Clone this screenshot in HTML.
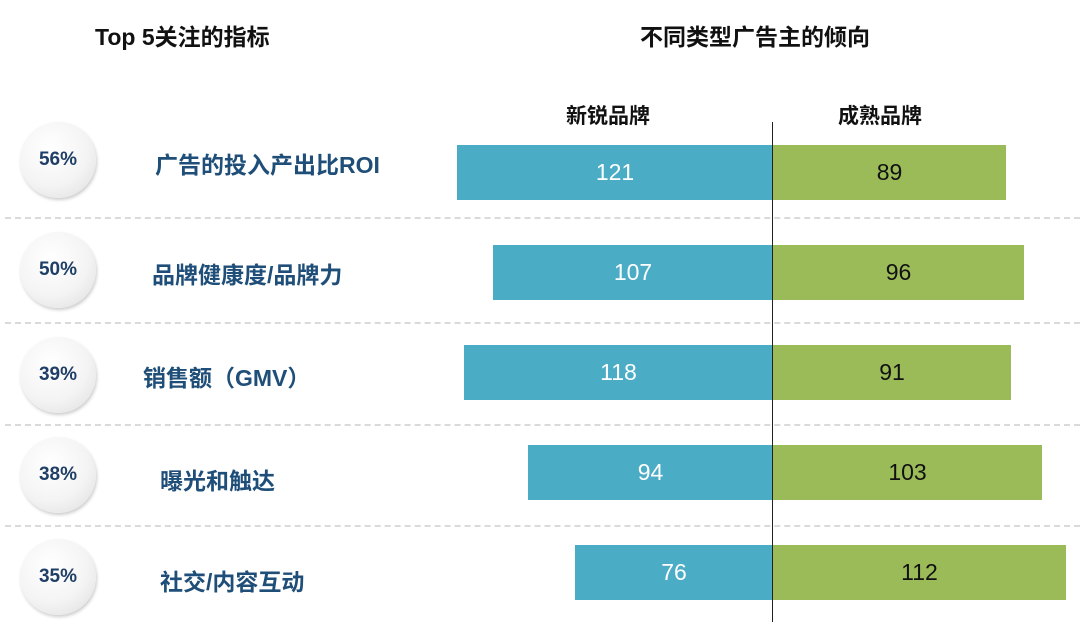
<!DOCTYPE html>
<html><head><meta charset="utf-8"><style>
body{margin:0;width:1080px;height:639px;background:#fff;position:relative;overflow:hidden;font-family:"Liberation Sans","Noto Sans CJK SC",sans-serif}
.a{position:absolute}
.t{font-weight:bold;font-size:23px;color:#111;white-space:nowrap}
.c{width:76px;height:76px;border-radius:50%;background:radial-gradient(circle at 40% 35%,#fff 0%,#f4f4f4 55%,#dcdcdc 100%);box-shadow:1px 2px 3px rgba(0,0,0,.2);display:flex;align-items:center;justify-content:center;font-weight:bold;font-size:19px;color:#1f3f66}
.l{font-weight:bold;font-size:23px;color:#1f4e79;white-space:nowrap}
.b{height:55px;display:flex;align-items:center;justify-content:center;font-size:23px}
.bl{background:#4bacc6;color:#fff}.br{background:#9bbb59;color:#111}
.d{left:5px;width:1075px;height:0;border-top:2px dashed #dadada}
</style></head><body>
<div class="a t" style="left:95px;top:18px">Top 5关注的指标</div>
<div class="a t" style="left:640px;top:18px">不同类型广告主的倾向</div>
<div class="a t" style="left:566px;top:100px;font-size:21px">新锐品牌</div>
<div class="a t" style="left:838px;top:100px;font-size:21px">成熟品牌</div>

<div class="a c" style="left:20px;top:122px">56%</div>
<div class="a c" style="left:20px;top:232px">50%</div>
<div class="a c" style="left:20px;top:337px">39%</div>
<div class="a c" style="left:20px;top:437px">38%</div>
<div class="a c" style="left:20px;top:539px">35%</div>

<div class="a l" style="left:155px;top:146px">广告的投入产出比ROI</div>
<div class="a l" style="left:152px;top:256px">品牌健康度/品牌力</div>
<div class="a l" style="left:143px;top:359px">销售额（GMV）</div>
<div class="a l" style="left:160px;top:462px">曝光和触达</div>
<div class="a l" style="left:160px;top:563px">社交/内容互动</div>

<div class="a d" style="top:217px"></div>
<div class="a d" style="top:322px"></div>
<div class="a d" style="top:424px"></div>
<div class="a d" style="top:525px"></div>

<div class="a b bl" style="left:457px;top:145px;width:316px">121</div>
<div class="a b br" style="left:773px;top:145px;width:233px">89</div>
<div class="a b bl" style="left:493px;top:245px;width:280px">107</div>
<div class="a b br" style="left:773px;top:245px;width:251px">96</div>
<div class="a b bl" style="left:464px;top:345px;width:309px">118</div>
<div class="a b br" style="left:773px;top:345px;width:238px">91</div>
<div class="a b bl" style="left:528px;top:445px;width:245px">94</div>
<div class="a b br" style="left:773px;top:445px;width:269px">103</div>
<div class="a b bl" style="left:575px;top:545px;width:198px">76</div>
<div class="a b br" style="left:773px;top:545px;width:293px">112</div>

<div class="a" style="left:772px;top:122px;width:1px;height:500px;background:#222"></div>
</body></html>
